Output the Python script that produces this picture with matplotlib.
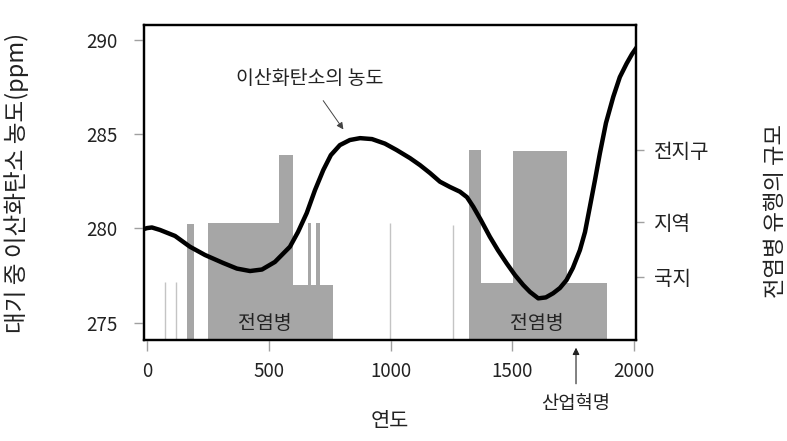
import matplotlib
matplotlib.use("Agg")
import matplotlib.pyplot as plt

plt.rcParams["font.family"] = ["Noto Sans CJK KR", "DejaVu Sans"]

# CO2 concentration (ppm)
co2_year = [-14, 0, 19, 52, 114, 175, 237, 311, 368, 422, 471, 524, 586, 619,
            655, 689, 723, 754, 791, 832, 874, 923, 976, 1024, 1079, 1120,
            1161, 1202, 1243, 1284, 1313, 1339, 1370, 1407, 1440, 1476, 1510,
            1544, 1572, 1606, 1637, 1667, 1695, 1722, 1748, 1777, 1798, 1818,
            1839, 1859, 1884, 1914, 1941, 1969, 1991, 2011]
co2_ppm = [279.97, 280.02, 280.05, 279.92, 279.60, 279.03, 278.59, 278.17,
           277.87, 277.74, 277.82, 278.22, 279.03, 279.81, 280.82, 282.04,
           283.10, 283.89, 284.42, 284.69, 284.79, 284.74, 284.50, 284.16,
           283.73, 283.36, 282.94, 282.48, 282.20, 281.95, 281.66, 281.15,
           280.45, 279.56, 278.85, 278.15, 277.53, 277.00, 276.63, 276.29,
           276.34, 276.56, 276.84, 277.26, 277.90, 278.85, 279.81, 281.15,
           282.57, 283.98, 285.59, 286.98, 288.03, 288.75, 289.25, 289.62]

# epidemics: start year, end year, scale
epi_start = [162, 250, 542, 600, 660, 693, 1322, 1369, 1501]
epi_end = [192, 542, 600, 764, 672, 709, 1369, 1887, 1722]
epi_scale = [1.84, 1.86, 2.94, 0.87, 1.86, 1.86, 3.02, 0.9, 3.0]

# minor outbreaks: year, scale
minor_year = [73, 118, 997, 1254]
minor_scale = [0.92, 0.92, 1.857, 1.825]

scale_ticks = [1.0, 1.873, 3.016]
scale_labels = ["국지", "지역", "전지구"]

text_color = "#222222"
tick_color = "#a0a0a0"
bar_color = "#a6a6a6"

fig = plt.figure(figsize=(7.87, 4.41), dpi=100)
ax = fig.add_axes([0.183, 0.229, 0.625, 0.714])
ax2 = ax.twinx()
ax.set_zorder(ax2.get_zorder() + 1)
ax.patch.set_visible(False)

# epidemic bars on the scale axis
widths = [e - s for s, e in zip(epi_start, epi_end)]
ax2.bar(epi_start, epi_scale, width=widths, align="edge", color=bar_color,
        linewidth=0)
ax2.vlines(minor_year, 0, minor_scale, color="#c4c4c4", linewidth=1)
ax2.set_ylim(0, 5.0)
ax2.set_yticks(scale_ticks)
ax2.set_yticklabels(scale_labels)
ax2.text(483, 0.27, "전염병", ha="center", va="center", fontsize=14,
         color=text_color)
ax2.text(1600, 0.27, "전염병", ha="center", va="center", fontsize=14,
         color=text_color)

# CO2 curve
ax.plot(co2_year, co2_ppm, color="black", linewidth=3.2,
        solid_joinstyle="round", solid_capstyle="round")
ax.set_xlim(-13.5, 2007)
ax.set_ylim(274.08, 290.785)
ax.set_xticks([0, 500, 1000, 1500, 2000])
ax.set_yticks([275, 280, 285, 290])

ax.text(668, 287.97, "이산화탄소의 농도", ha="center", va="center",
        fontsize=14, color=text_color)
ax.annotate("", xy=(812, 285.13), xytext=(716, 286.9),
            arrowprops=dict(arrowstyle="-|>", color="#444444", lw=0.7,
                            mutation_scale=10))
ax.annotate("", xy=(1761, 273.82), xytext=(1761, 271.61),
            annotation_clip=False,
            arrowprops=dict(arrowstyle="-|>", color="#222222", lw=0.8,
                            mutation_scale=10))
ax.text(1761, 270.69, "산업혁명", ha="center", va="center", fontsize=13.5,
        color=text_color, clip_on=False)

for a in (ax, ax2):
    for sp in a.spines.values():
        sp.set_linewidth(1.6)
        sp.set_color("black")

ax.tick_params(axis="x", direction="out", length=8, width=1,
               color=tick_color, labelsize=13.5, labelcolor=text_color, pad=7)
ax.tick_params(axis="y", direction="out", length=7, width=1,
               color=tick_color, labelsize=13.5, labelcolor=text_color, pad=12)
ax2.tick_params(axis="y", direction="out", length=6, width=1,
                color=tick_color, labelsize=14.5, labelcolor=text_color, pad=7)

ax.set_xlabel("연도", fontsize=15, color=text_color, labelpad=20)
fig.text(17 / 787, 1 - 183 / 441, "대기 중 이산화탄소 농도(ppm)", rotation=90,
         ha="center", va="center", fontsize=17, color=text_color)
fig.text(775 / 787, 1 - 211 / 441, "전염병 유행의 규모", rotation=90,
         ha="center", va="center", fontsize=16, color=text_color)

fig.savefig("out.png", dpi=100)
